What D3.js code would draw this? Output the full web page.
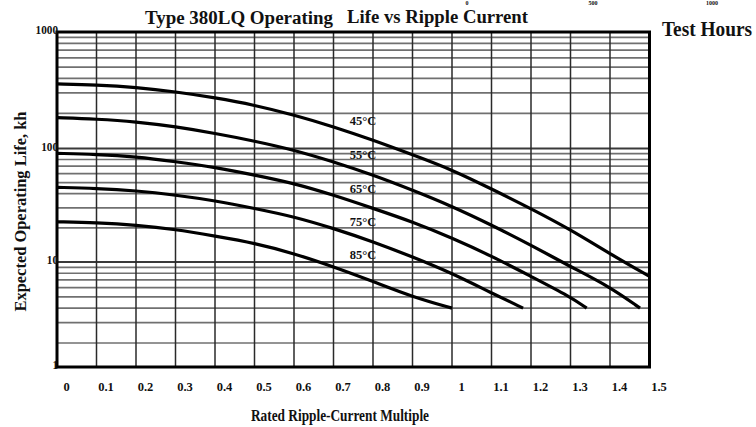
<!DOCTYPE html>
<html>
<head>
<meta charset="utf-8">
<script src="https://cdn.jsdelivr.net/npm/d3@7"></script>
<style>
  body { margin: 0; background: #fff; }
  svg { display: block; }
  text { font-family: "Liberation Serif", "Times New Roman", serif; font-weight: bold; fill: #111; }
</style>
</head>
<body>
<svg width="756" height="427"></svg>
<script>
// ripple-current multiple (x) and life in kh (y)
const xTicks = [0, 0.1, 0.2, 0.3, 0.4, 0.5, 0.6, 0.7, 0.8, 0.9, 1, 1.1, 1.2, 1.3, 1.4, 1.5];
const yTicks = [1, 10, 100, 1000];

const x45 = [0, 0.1, 0.2, 0.3, 0.4, 0.5, 0.6, 0.7, 0.8, 0.9, 1, 1.1, 1.2, 1.3, 1.4, 1.5];
const y45 = [358, 351, 335, 307, 273, 236, 194, 154, 118, 88, 65, 44, 29.5, 19.3, 11.8, 7.5];

const x55 = [0, 0.1, 0.2, 0.3, 0.4, 0.5, 0.6, 0.7, 0.8, 0.9, 1, 1.1, 1.2, 1.3, 1.4, 1.476];
const y55 = [184, 179, 170, 154, 135, 116, 97, 76.5, 58.5, 43, 31, 21.2, 14.1, 9.1, 6.1, 4];

const x65 = [0, 0.1, 0.2, 0.3, 0.4, 0.5, 0.6, 0.7, 0.8, 0.9, 1, 1.1, 1.2, 1.3, 1.341];
const y65 = [90.7, 88.9, 84.7, 76.6, 68.3, 58.4, 49.4, 38.9, 29.7, 22.6, 16.3, 11.3, 7.5, 5.0, 4];

const x75 = [0, 0.1, 0.2, 0.3, 0.4, 0.5, 0.6, 0.7, 0.8, 0.9, 1, 1.1, 1.18];
const y75 = [45.5, 44.6, 42.5, 38.9, 34.7, 29.7, 25.1, 19.8, 15.1, 11.1, 8.0, 5.4, 4];

const x85 = [0, 0.1, 0.2, 0.3, 0.4, 0.5, 0.6, 0.7, 0.8, 0.9, 1];
const y85 = [22.6, 22.2, 21.2, 19.4, 16.9, 14.7, 11.9, 9.1, 6.8, 5.0, 4];

const seriesNames = ["45°C", "55°C", "65°C", "75°C", "85°C"];
const labelX = [0.775, 0.775, 0.775, 0.775, 0.775];
const labelY = [173, 87.7, 44.2, 22.6, 11.5];

const series = [[x45, y45], [x55, y55], [x65, y65], [x75, y75], [x85, y85]];

const $svg = d3.select("svg");

const x = d3.scaleLinear().domain([0, 1.5]).range([57, 649.5]);
// the printed log grid is not quite even, so the scale is pieced between decades
const y = d3.scaleLog().domain([1, 2, 10, 100, 1000]).range([367, 343, 262, 148.5, 32]);

// horizontal grid: 1..9 in each decade
const hLines = [];
[1, 10, 100].forEach(d => { for (let k = 2; k <= 9; k++) hLines.push(d * k); });

$svg.append("g")
  .selectAll("line")
  .data(hLines)
  .join("line")
  .attr("x1", x(0)).attr("x2", x(1.5))
  .attr("y1", d => y(d)).attr("y2", d => y(d))
  .attr("stroke", "#707070")
  .attr("stroke-width", 1.7);

$svg.append("g")
  .selectAll("line")
  .data([10, 100])
  .join("line")
  .attr("x1", x(0)).attr("x2", x(1.5))
  .attr("y1", d => y(d)).attr("y2", d => y(d))
  .attr("stroke", "#3a3a3a")
  .attr("stroke-width", 1.9);

$svg.append("g")
  .selectAll("line")
  .data(xTicks.slice(1, -1))
  .join("line")
  .attr("x1", d => x(d)).attr("x2", d => x(d))
  .attr("y1", y(1)).attr("y2", y(1000))
  .attr("stroke", "#2a2a2a")
  .attr("stroke-width", 1.5);

// frame
$svg.append("rect")
  .attr("x", x(0)).attr("y", y(1000))
  .attr("width", x(1.5) - x(0)).attr("height", y(1) - y(1000))
  .attr("fill", "none")
  .attr("stroke", "#000")
  .attr("stroke-width", 3);

// curves
const line = d3.line()
  .x(d => x(d[0]))
  .y(d => y(d[1]))
  .curve(d3.curveBasis);

$svg.append("g")
  .selectAll("path")
  .data(series.map(s => s[0].map((v, i) => [v, s[1][i]])))
  .join("path")
  .attr("d", line)
  .attr("fill", "none")
  .attr("stroke", "#000")
  .attr("stroke-width", 3.2);

$svg.append("g")
  .selectAll("text")
  .data(seriesNames)
  .join("text")
  .attr("x", (d, i) => x(labelX[i]))
  .attr("y", (d, i) => y(labelY[i]))
  .attr("dy", "0.35em")
  .attr("text-anchor", "middle")
  .style("font-size", "12.5px")
  .text(d => d);

// axes
const xAxis = $svg.append("g")
  .attr("transform", `translate(9,${y(1) + 12})`)
  .call(d3.axisBottom(x).tickValues(xTicks).tickSize(0).tickFormat(d3.format("~g")));
xAxis.select(".domain").remove();
xAxis.selectAll("text").style("font-size", "12.5px").style("font-family", null);

const yAxis = $svg.append("g")
  .attr("transform", `translate(${x(0) + 1},0)`)
  .call(d3.axisLeft(y).tickValues(yTicks).tickSize(0).tickPadding(0).tickFormat(d3.format("d")));
yAxis.select(".domain").remove();
yAxis.selectAll("text")
  .style("font-size", "12.5px").style("font-family", null)
  .attr("dy", "0.15em")
  .attr("textLength", d => String(d).length * 5.6)
  .attr("lengthAdjust", "spacingAndGlyphs");

// titles
$svg.append("text")
  .attr("x", 145).attr("y", 24)
  .attr("textLength", 188).attr("lengthAdjust", "spacingAndGlyphs")
  .style("font-size", "18px")
  .text("Type 380LQ Operating");

$svg.append("text")
  .attr("x", 347).attr("y", 23)
  .attr("textLength", 181).attr("lengthAdjust", "spacingAndGlyphs")
  .style("font-size", "18px")
  .text("Life vs Ripple Current");

$svg.append("text")
  .attr("x", 662).attr("y", 36)
  .attr("textLength", 90).attr("lengthAdjust", "spacingAndGlyphs")
  .style("font-size", "20px")
  .text("Test Hours");

// scraps of a scale at the top edge of the scan
$svg.append("g")
  .selectAll("text")
  .data([[467, "0"], [593, "500"], [712, "1000"]])
  .join("text")
  .attr("x", d => d[0]).attr("y", 5)
  .attr("text-anchor", "middle")
  .style("font-size", "6px")
  .text(d => d[1]);

$svg.append("text")
  .attr("transform", `translate(26,${(y(1) + y(1000)) / 2 + 12}) rotate(-90)`)
  .attr("text-anchor", "middle")
  .attr("textLength", 200).attr("lengthAdjust", "spacingAndGlyphs")
  .style("font-size", "17px")
  .text("Expected Operating Life, kh");

$svg.append("text")
  .attr("x", 340).attr("y", 421)
  .attr("text-anchor", "middle")
  .attr("textLength", 178).attr("lengthAdjust", "spacingAndGlyphs")
  .style("font-size", "16px")
  .text("Rated Ripple-Current Multiple");
</script>
</body>
</html>
